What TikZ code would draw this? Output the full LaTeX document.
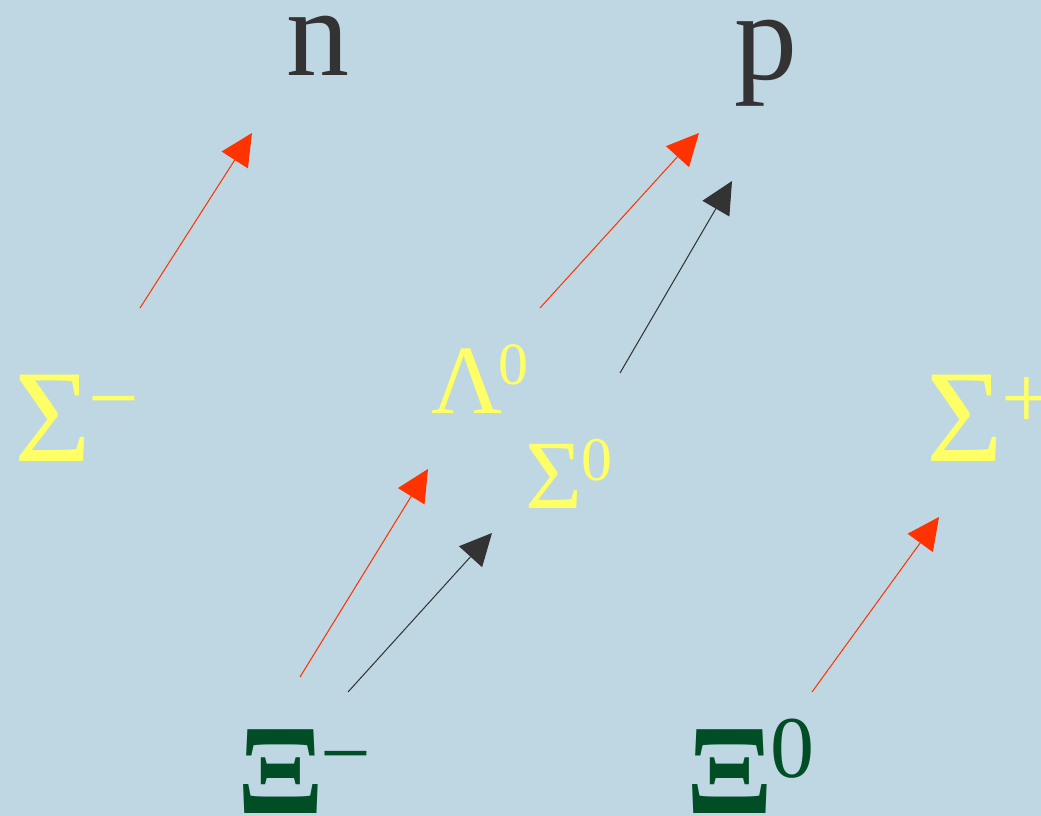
\documentclass[tikz,border=0pt]{standalone}
\usepackage{fontspec}
\setmainfont{Liberation Serif}
\usetikzlibrary{arrows.meta}
\definecolor{bg}{HTML}{BED7E3}
\definecolor{hyper}{HTML}{FFFF66}
\definecolor{xigreen}{HTML}{004D26}
\definecolor{redarr}{HTML}{FF3300}
\definecolor{darkarr}{HTML}{333333}
\tikzset{
  lbl/.style={anchor=base west, inner sep=0pt, outer sep=0pt},
  nucleon/.style={lbl, text=darkarr},
  hyperon/.style={lbl, text=hyper},
  cascade/.style={lbl, text=xigreen, font=\bfseries},
  redarrow/.style={draw=redarr, line width=1pt, -{Triangle[length=32pt,width=31pt]}, fill=redarr},
  darkarrow/.style={draw=darkarr, line width=1pt, -{Triangle[length=32pt,width=31pt]}, fill=darkarr},
}
\begin{document}
\begin{tikzpicture}[x=1pt,y=-1pt]
\fill[bg] (0,0) rectangle (1041,816);
\useasboundingbox (0,0) rectangle (1041,816);
% nucleons
\node[nucleon] (n) at (286,76) {\fontsize{126}{126}\selectfont n};
\node[nucleon] (p) at (734,79) {\fontsize{126}{126}\selectfont p};
% hyperons
\node[hyperon] (sigm) at (14,461) {\fontsize{132}{132}\selectfont Σ\kern-2pt\raisebox{33pt}{\fontsize{90}{90}\selectfont −}};
\node[hyperon] (lam) at (431,413) {\fontsize{98}{98}\selectfont Λ\kern-4pt\raisebox{29pt}{\fontsize{60}{60}\selectfont 0}};
\node[hyperon] (sig0) at (525,508) {\fontsize{98}{98}\selectfont Σ\kern-1pt\raisebox{28pt}{\fontsize{62}{62}\selectfont 0}};
\node[hyperon] (sigp) at (926,461) {\fontsize{132}{132}\selectfont Σ\kern-1pt\raisebox{33pt}{\fontsize{90}{90}\selectfont +}};
% cascades
\node[cascade] (xim) at (237,813) {\fontsize{128}{128}\selectfont Ξ\kern-3pt\raisebox{30pt}{\fontsize{90}{90}\selectfont\mdseries −}};
\node[cascade] (xi0) at (686,813) {\fontsize{128}{128}\selectfont Ξ\kern-2pt\raisebox{36pt}{\fontsize{88}{88}\selectfont\mdseries 0}};
% arrow endpoints
\coordinate (a1s) at (140,308); \coordinate (a1e) at (252,133);
\coordinate (a2s) at (540,308); \coordinate (a2e) at (699,133);
\coordinate (a3s) at (620,373); \coordinate (a3e) at (732,181);
\coordinate (a4s) at (300,677); \coordinate (a4e) at (428,469);
\coordinate (a5s) at (348,692); \coordinate (a5e) at (492,533);
\coordinate (a6s) at (812,692); \coordinate (a6e) at (939,517);
\draw[redarrow] (a1s) -- (a1e);
\draw[redarrow] (a2s) -- (a2e);
\draw[darkarrow] (a3s) -- (a3e);
\draw[redarrow] (a4s) -- (a4e);
\draw[darkarrow] (a5s) -- (a5e);
\draw[redarrow] (a6s) -- (a6e);
\end{tikzpicture}
\end{document}
